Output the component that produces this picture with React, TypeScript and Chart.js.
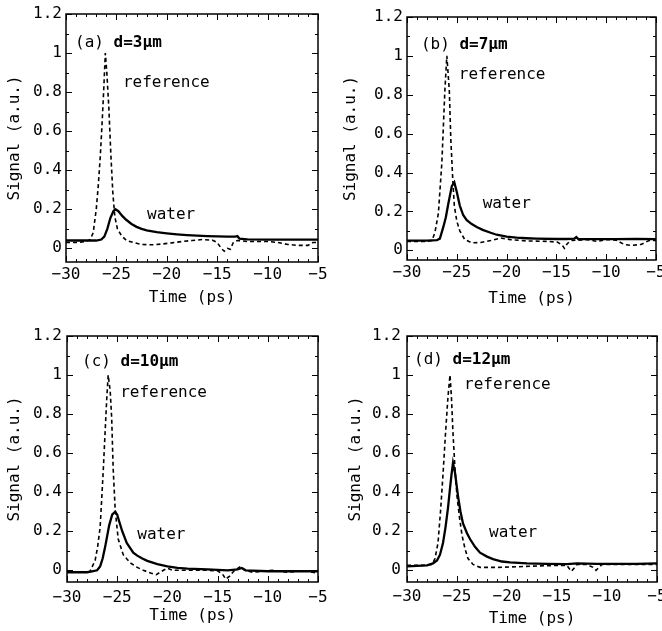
import React, { useEffect, useRef } from 'react';
import { Chart, registerables } from 'chart.js';

Chart.register(...registerables);

// ---------- data ----------
const xTickValues = [-30, -25, -20, -15, -10, -5];
const yTickValues = [0, 0.2, 0.4, 0.6, 0.8, 1, 1.2];

// (a) d = 3 um
const refTimeA = [-30, -29, -28, -27.6, -27.3, -27.0, -26.8, -26.6, -26.4, -26.25, -26.1, -25.95, -25.75, -25.55, -25.35, -25.15, -24.9, -24.5, -24, -23.3, -22.5, -21.5, -20.5, -19.5, -18.5, -17.5, -16.5, -15.5, -15, -14.6, -14.3, -14, -13.7, -13.4, -13, -12, -11, -10, -9, -8, -7, -6, -5.5, -5];
const refA = [0.03, 0.03, 0.035, 0.045, 0.08, 0.2, 0.32, 0.47, 0.66, 0.82, 1.0, 0.9, 0.72, 0.48, 0.28, 0.16, 0.1, 0.065, 0.04, 0.03, 0.02, 0.018, 0.022, 0.028, 0.035, 0.04, 0.045, 0.042, 0.03, 0.0, -0.015, 0.0, -0.005, 0.03, 0.04, 0.035, 0.035, 0.035, 0.03, 0.02, 0.015, 0.015, 0.03, 0.03];
const waterTimeA = [-30, -28, -27, -26.5, -26.2, -25.9, -25.6, -25.3, -25.1, -24.8, -24.4, -24, -23.5, -23, -22.5, -22, -21, -20, -19, -18, -17, -16, -15, -14, -13.2, -13, -12.8, -12, -10, -8, -6, -5];
const waterA = [0.04, 0.04, 0.04, 0.045, 0.06, 0.1, 0.155, 0.19, 0.2, 0.19, 0.165, 0.145, 0.125, 0.11, 0.1, 0.092, 0.083, 0.077, 0.072, 0.068, 0.065, 0.063, 0.061, 0.06, 0.06, 0.063, 0.05, 0.046, 0.045, 0.045, 0.045, 0.045];

// (b) d = 7 um
const refTimeB = [-30, -29, -28, -27.5, -27.2, -26.85, -26.5, -26.2, -26.0, -25.75, -25.6, -25.4, -25.25, -25.0, -24.7, -24.2, -23.5, -22.6, -21.6, -20.6, -19.6, -18, -16, -14.9, -14.4, -14.2, -13.9, -13.5, -12, -10.9, -10, -9, -8.2, -7.5, -6.5, -5.7, -5];
const refB = [0.045, 0.045, 0.045, 0.05, 0.09, 0.19, 0.45, 0.82, 1.0, 0.82, 0.57, 0.36, 0.23, 0.15, 0.1, 0.055, 0.038, 0.04, 0.05, 0.063, 0.055, 0.048, 0.046, 0.042, 0.025, 0.01, 0.035, 0.05, 0.055, 0.046, 0.055, 0.052, 0.03, 0.025, 0.03, 0.05, 0.05];
const waterTimeB = [-30, -28, -27, -26.7, -26.35, -26.1, -25.85, -25.5, -25.25, -25.0, -24.7, -24.35, -24.0, -23.5, -23, -22.4, -21.6, -21, -20, -19, -18, -17, -15, -14, -13.2, -13, -12.8, -11, -9, -7, -5];
const waterB = [0.05, 0.05, 0.052, 0.06, 0.12, 0.17, 0.24, 0.33, 0.35, 0.3, 0.23, 0.18, 0.155, 0.135, 0.12, 0.105, 0.09, 0.08, 0.07, 0.065, 0.062, 0.06, 0.058, 0.058, 0.06, 0.068, 0.058, 0.057, 0.057, 0.058, 0.057];

// (c) d = 10 um
const refTimeC = [-30, -28, -27.7, -27.2, -26.95, -26.7, -26.4, -26.05, -25.9, -25.7, -25.55, -25.4, -25.2, -24.9, -24.4, -23.7, -23, -22.4, -21.6, -21.1, -20.4, -20.0, -19.5, -18, -16, -15, -14.5, -14.2, -13.8, -13.4, -13, -12.7, -12.3, -11.5, -10.5, -9.5, -8, -7, -6, -5];
const refC = [-0.01, -0.01, -0.005, 0.05, 0.12, 0.22, 0.5, 0.87, 1.0, 0.92, 0.78, 0.52, 0.31, 0.16, 0.08, 0.038, 0.015, 0.0, -0.015, -0.022, 0.0, 0.01, 0.0, 0.0, 0.0, -0.003, -0.02, -0.045, -0.03, -0.005, 0.01, 0.02, 0.0, -0.01, -0.005, 0.0, -0.01, -0.005, -0.005, -0.015];
const waterTimeC = [-30, -28, -27.5, -27, -26.7, -26.45, -26.2, -25.8, -25.5, -25.2, -25.0, -24.8, -24.5, -24.05, -23.4, -23, -22.5, -22, -21, -20, -19, -18, -16, -14, -13, -12.6, -12.2, -10, -8, -5];
const waterC = [-0.01, -0.01, -0.005, 0.0, 0.02, 0.06, 0.12, 0.23, 0.285, 0.3, 0.285, 0.25, 0.2, 0.14, 0.09, 0.075, 0.06, 0.048, 0.032, 0.02, 0.012, 0.008, 0.005, 0.0, 0.005, 0.012, 0.0, -0.005, -0.005, -0.005];

// (d) d = 12 um
const refTimeD = [-30, -28.5, -27.5, -27.2, -26.9, -26.65, -26.4, -26.15, -25.9, -25.7, -25.55, -25.4, -25.2, -25.0, -24.75, -24.5, -24.2, -23.9, -23.4, -22.7, -21, -19, -17, -15, -14, -13.8, -13.55, -13.3, -13, -12, -11.4, -11.1, -10.8, -10.5, -8, -6, -5];
const refD = [0.025, 0.025, 0.03, 0.06, 0.14, 0.3, 0.49, 0.7, 0.89, 1.0, 0.88, 0.7, 0.52, 0.38, 0.27, 0.18, 0.11, 0.06, 0.03, 0.015, 0.015, 0.018, 0.022, 0.025, 0.025, 0.01, -0.005, 0.01, 0.03, 0.03, 0.015, 0.0, 0.015, 0.03, 0.03, 0.03, 0.03];
const waterTimeD = [-30, -28, -27.4, -27, -26.7, -26.4, -26.15, -25.9, -25.7, -25.55, -25.4, -25.2, -24.9, -24.65, -24.4, -24.0, -23.7, -23.2, -22.7, -22, -21.4, -20.5, -19.7, -18, -16, -14, -13, -11, -9, -7, -5];
const waterD = [0.02, 0.025, 0.035, 0.05, 0.08, 0.14, 0.22, 0.32, 0.42, 0.49, 0.55, 0.5, 0.38, 0.3, 0.24, 0.19, 0.16, 0.12, 0.09, 0.07, 0.057, 0.045, 0.04, 0.035, 0.033, 0.032, 0.035, 0.033, 0.033, 0.033, 0.035];

// ---------- panel layout ----------
const FONT = '"DejaVu Sans Mono", monospace';
const FS = 16;

const panels = [
  {
    key: 'a', tag: '(a) ', bold: 'd=3\u03bcm',
    refT: refTimeA, ref: refA, wT: waterTimeA, w: waterA,
    box: { left: 0, top: 0, w: 331, h: 315 },
    area: { l: 66, t: 14, r: 318, b: 262 }, yMin: -0.07,
    xTickPad: 3, yTickPad: 4, xTitlePad: 8, yTitlePad: 5,
    tagPos: [-29.1, 1.05], refPos: [-24.35, 0.847], waterPos: [-21.96, 0.171],
  },
  {
    key: 'b', tag: '(b) ', bold: 'd=7\u03bcm',
    refT: refTimeB, ref: refB, wT: waterTimeB, w: waterB,
    box: { left: 331, top: 0, w: 331, h: 315 },
    area: { l: 76, t: 17, r: 325, b: 260 }, yMin: -0.05,
    xTickPad: 3, yTickPad: 4, xTitlePad: 7, yTitlePad: 10,
    tagPos: [-28.6, 1.056], refPos: [-24.8, 0.9], waterPos: [-22.4, 0.238],
  },
  {
    key: 'c', tag: '(c) ', bold: 'd=10\u03bcm',
    refT: refTimeC, ref: refC, wT: waterTimeC, w: waterC,
    box: { left: 0, top: 315, w: 331, h: 316 },
    area: { l: 67, t: 21, r: 318, b: 267 }, yMin: -0.06,
    xTickPad: 6, yTickPad: 5, xTitlePad: 6, yTitlePad: 5,
    tagPos: [-28.5, 1.067], refPos: [-24.7, 0.908], waterPos: [-23.0, 0.18],
  },
  {
    key: 'd', tag: '(d) ', bold: 'd=12\u03bcm',
    refT: refTimeD, ref: refD, wT: waterTimeD, w: waterD,
    box: { left: 331, top: 315, w: 331, h: 316 },
    area: { l: 76, t: 21, r: 326, b: 267 }, yMin: -0.06,
    xTickPad: 5, yTickPad: 6, xTitlePad: 3, yTitlePad: 15,
    tagPos: [-29.3, 1.077], refPos: [-24.3, 0.95], waterPos: [-21.8, 0.19],
  },
];

const framePlugin = {
  id: 'frame',
  afterDatasetsDraw(chart: any, _args: any, opts: any) {
    const { ctx, chartArea: a, scales } = chart;
    const x = scales.x, y = scales.y;
    ctx.save();
    ctx.strokeStyle = '#000';
    ctx.lineWidth = 1.5;
    ctx.strokeRect(a.left, a.top, a.right - a.left, a.bottom - a.top);
    ctx.lineWidth = 1;
    ctx.beginPath();
    for (let t = x.min; t <= x.max; t += 1) {
      const px = Math.round(x.getPixelForValue(t)) + 0.5;
      const len = t % 5 === 0 ? 6 : 3;
      ctx.moveTo(px, a.bottom); ctx.lineTo(px, a.bottom - len);
      ctx.moveTo(px, a.top); ctx.lineTo(px, a.top + len);
    }
    for (let i = 0; i <= 12; i++) {
      const py = Math.round(y.getPixelForValue(i / 10)) + 0.5;
      const len = i % 2 === 0 ? 6 : 3;
      ctx.moveTo(a.left, py); ctx.lineTo(a.left + len, py);
      ctx.moveTo(a.right, py); ctx.lineTo(a.right - len, py);
    }
    ctx.stroke();

    ctx.fillStyle = '#000';
    ctx.textBaseline = 'middle';
    ctx.textAlign = 'left';
    const tx = x.getPixelForValue(opts.tagX), ty = y.getPixelForValue(opts.tagY);
    ctx.font = `${FS}px ${FONT}`;
    ctx.fillText(opts.tag, tx, ty);
    const w = ctx.measureText(opts.tag).width;
    ctx.font = `bold ${FS}px ${FONT}`;
    ctx.fillText(opts.bold, tx + w, ty);
    ctx.font = `${FS}px ${FONT}`;
    ctx.fillText('reference', x.getPixelForValue(opts.refX), y.getPixelForValue(opts.refY));
    ctx.fillText('water', x.getPixelForValue(opts.waterX), y.getPixelForValue(opts.waterY));
    ctx.restore();
  },
};

function Panel({ p }: { p: any }) {
  const canvasRef = useRef<HTMLCanvasElement>(null);
  useEffect(() => {
    const refData = p.refT.map((t: number, i: number) => ({ x: t, y: p.ref[i] }));
    const waterData = p.wT.map((t: number, i: number) => ({ x: t, y: p.w[i] }));
    const chart = new Chart(canvasRef.current!, {
      type: 'line',
      data: {
        datasets: [
          { label: 'reference', data: refData, borderColor: '#000', borderWidth: 1.6, borderDash: [4, 3], pointRadius: 0, tension: 0, fill: false },
          { label: 'water', data: waterData, borderColor: '#000', borderWidth: 2.3, pointRadius: 0, tension: 0, fill: false },
        ],
      },
      options: {
        animation: false,
        responsive: false,
        devicePixelRatio: 1,
        layout: { padding: { left: 0, top: p.area.t, right: p.box.w - p.area.r, bottom: 0 } },
        plugins: {
          legend: { display: false },
          tooltip: { enabled: false },
          frame: {
            tag: p.tag, bold: p.bold,
            tagX: p.tagPos[0], tagY: p.tagPos[1],
            refX: p.refPos[0], refY: p.refPos[1],
            waterX: p.waterPos[0], waterY: p.waterPos[1],
          },
        } as any,
        scales: {
          x: {
            type: 'linear', min: -30, max: -5,
            grid: { display: false, drawTicks: false },
            border: { display: false },
            afterBuildTicks: (s: any) => { s.ticks = xTickValues.map((v) => ({ value: v })); },
            afterFit: (s: any) => { s.height = p.box.h - p.area.b; s.paddingLeft = 0; s.paddingRight = 0; },
            ticks: {
              padding: p.xTickPad, color: '#000', maxRotation: 0, autoSkip: false,
              font: { family: FONT, size: FS },
              callback: (v: any) => (v < 0 ? '\u2212' + Math.abs(v) : String(v)),
            },
            title: { display: true, text: 'Time (ps)', color: '#000', font: { family: FONT, size: FS }, padding: { top: 0, bottom: p.xTitlePad } },
          },
          y: {
            type: 'linear', min: p.yMin, max: 1.2,
            grid: { display: false, drawTicks: false },
            border: { display: false },
            afterBuildTicks: (s: any) => { s.ticks = yTickValues.map((v) => ({ value: v })); },
            afterFit: (s: any) => { s.width = p.area.l; s.paddingTop = 0; s.paddingBottom = 0; },
            ticks: {
              padding: p.yTickPad, color: '#000', autoSkip: false,
              font: { family: FONT, size: FS },
              callback: (v: any) => String(v),
            },
            title: { display: true, text: 'Signal (a.u.)', color: '#000', font: { family: FONT, size: FS }, padding: { top: p.yTitlePad, bottom: 0 } },
          },
        },
      } as any,
      plugins: [framePlugin],
    });
    return () => chart.destroy();
  }, []);
  return (
    <div style={{ position: 'absolute', left: p.box.left, top: p.box.top, width: p.box.w, height: p.box.h }}>
      <canvas ref={canvasRef} width={p.box.w} height={p.box.h} style={{ display: 'block', width: p.box.w, height: p.box.h }} />
    </div>
  );
}

export default function App() {
  return (
    <div style={{ position: 'absolute', left: 0, top: 0, width: 662, height: 631, background: '#fff', overflow: 'hidden' }}>
      {panels.map((p) => (
        <Panel key={p.key} p={p} />
      ))}
    </div>
  );
}
